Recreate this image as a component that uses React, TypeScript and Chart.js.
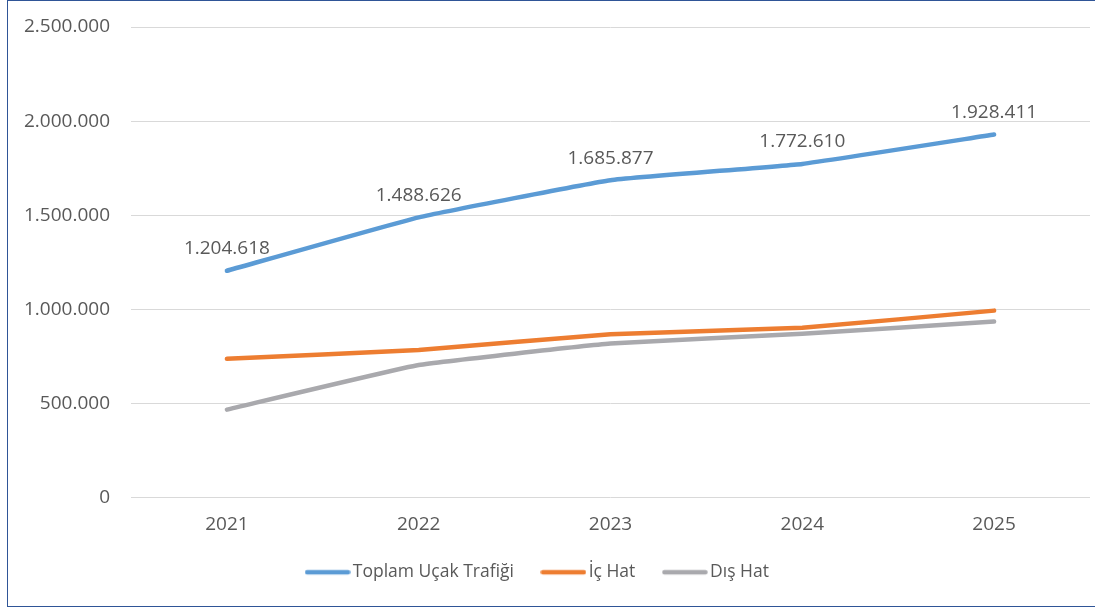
import React, { useEffect, useRef } from "react";
import { Chart, registerables } from "chart.js";

Chart.register(...registerables);

const years = ["2021", "2022", "2023", "2024", "2025"];
const toplamUcak = [1204618, 1488626, 1685877, 1772610, 1928411];
const icHat = [737000, 784000, 868000, 902000, 993000];
const disHat = [467000, 704000, 818000, 870000, 935000];
const seriesNames = ["Toplam Uçak Trafiği", "İç Hat", "Dış Hat"];
const seriesColors = ["#5B9BD5", "#ED7D31", "#A9A9AD"];
const yMin = 0;
const yMax = 2500000;
const yStep = 500000;

const fmt = (n: number) =>
  String(Math.round(n)).replace(/\B(?=(\d{3})+(?!\d))/g, ".");

const FONT = '"Open Sans", "Noto Sans", sans-serif';
const TEXT = "#595959";

function legendLine(color: string) {
  const c = document.createElement("canvas");
  c.width = 46;
  c.height = 8;
  const g = c.getContext("2d")!;
  g.strokeStyle = color;
  g.lineWidth = 4.5;
  g.lineCap = "round";
  g.beginPath();
  g.moveTo(2.5, 4);
  g.lineTo(43.5, 4);
  g.stroke();
  return c;
}

const valueLabels = {
  id: "valueLabels",
  afterDatasetsDraw(chart: any) {
    const meta = chart.getDatasetMeta(0);
    const ctx = chart.ctx;
    ctx.save();
    ctx.font = `19px ${FONT}`;
    ctx.fillStyle = TEXT;
    ctx.textAlign = "center";
    ctx.textBaseline = "middle";
    meta.data.forEach((pt: any, i: number) => {
      ctx.fillText(fmt(toplamUcak[i]), pt.x, pt.y - 22);
    });
    ctx.restore();
  },
};

const legendShift = {
  id: "legendShift",
  afterLayout(chart: any) {
    if (chart.legend) {
      chart.legend.left -= 5;
      chart.legend.right -= 5;
    }
  },
};

export default function App() {
  const ref = useRef<HTMLCanvasElement | null>(null);

  useEffect(() => {
    if (!ref.current) return;
    const images = seriesColors.map(legendLine);
    const chart = new Chart(ref.current, {
      type: "line",
      data: {
        labels: years,
        datasets: [toplamUcak, icHat, disHat].map((values, i) => ({
          label: seriesNames[i],
          data: values,
          borderColor: seriesColors[i],
          backgroundColor: seriesColors[i],
          borderWidth: 4.5,
          pointRadius: 0,
          pointHoverRadius: 0,
          tension: 0.1,
          borderCapStyle: "round" as const,
          borderJoinStyle: "round" as const,
          fill: false,
        })),
      },
      options: {
        responsive: false,
        animation: false,
        devicePixelRatio: 1,
        layout: { padding: { left: 0, right: 5, top: 27, bottom: 17 } },
        scales: {
          x: {
            offset: true,
            grid: { display: false },
            border: { display: false },
            ticks: {
              color: TEXT,
              font: { family: FONT, size: 19 },
              padding: 8,
            },
            afterFit: (s: any) => {
              s.height = 33;
            },
          },
          y: {
            min: yMin,
            max: yMax,
            grid: { color: "#D9D9D9", lineWidth: 1, drawTicks: false },
            border: { display: false },
            ticks: {
              stepSize: yStep,
              color: TEXT,
              font: { family: FONT, size: 19 },
              padding: 21,
              callback: (v: any) => fmt(Number(v)),
            },
            afterFit: (s: any) => {
              s.width = 131;
              s.paddingTop = 5;
              s.paddingBottom = 5;
            },
          },
        },
        plugins: {
          legend: {
            position: "bottom",
            labels: {
              usePointStyle: true,
              pointStyleWidth: 33,
              color: TEXT,
              font: { family: FONT, size: 17.5 },
              padding: 33,
              generateLabels: (ch: any) =>
                Chart.defaults.plugins.legend.labels
                  .generateLabels(ch)
                  .map((item: any, i: number) => ({
                    ...item,
                    pointStyle: images[i],
                  })),
            },
          },
          tooltip: { enabled: false },
        },
      },
      plugins: [valueLabels, legendShift],
    });
    return () => chart.destroy();
  }, []);

  return (
    <div
      style={{
        position: "absolute",
        left: 0,
        top: 0,
        width: 1095,
        height: 608,
        overflow: "hidden",
        background: "#fff",
      }}
    >
      <canvas
        ref={ref}
        width={1095}
        height={608}
        style={{ position: "absolute", left: 0, top: 0 }}
      />
      <div
        style={{
          position: "absolute",
          left: 7,
          top: 0,
          width: 1088,
          height: 607,
          boxSizing: "border-box",
          borderLeft: "1.5px solid #2F5597",
          borderTop: "1.5px solid #2F5597",
          borderBottom: "1.5px solid #2F5597",
          pointerEvents: "none",
        }}
      />
    </div>
  );
}
